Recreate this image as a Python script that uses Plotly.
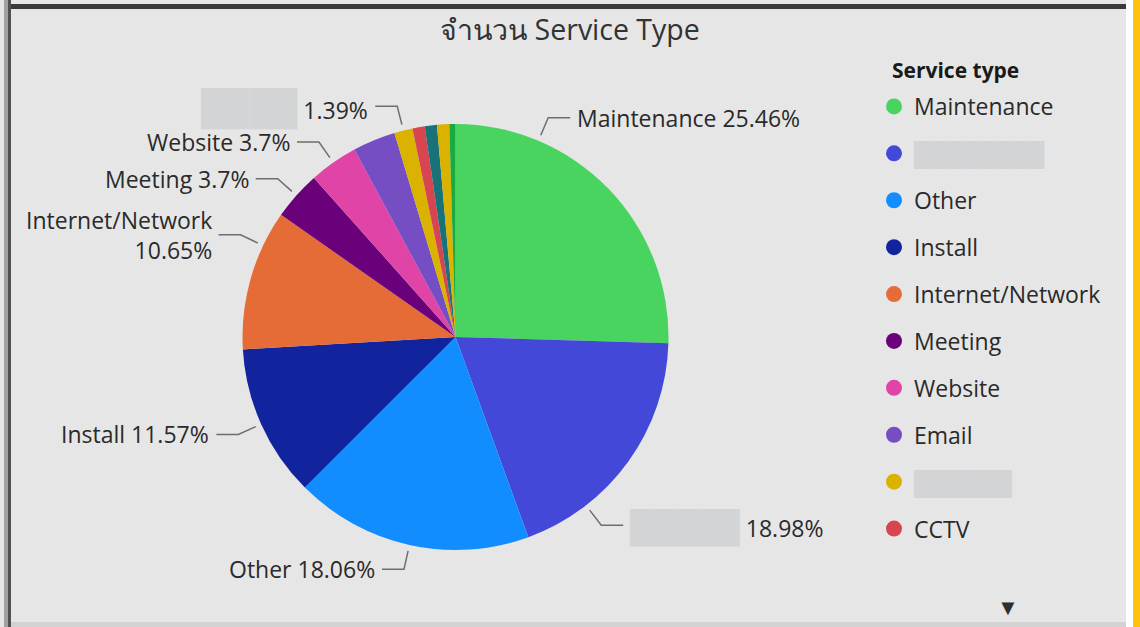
import math
import plotly.graph_objects as go

# ---------------- data ----------------
categories = ["Maintenance", "Hidden A", "Other", "Install", "Internet/Network",
              "Meeting", "Website", "Email", "Hidden B", "CCTV",
              "Hidden C", "Hidden D", "Hidden E"]
counts = [55, 41, 39, 25, 23, 8, 8, 7, 3, 2, 2, 2, 1]
slice_colors = ["#48D45F", "#4448D8", "#118DFF", "#12239E", "#E66C37",
                "#6B007B", "#E044A7", "#744EC2", "#D9B300", "#D64550",
                "#197278", "#D9B300", "#1AAB40"]
redacted = ["Hidden A", "Hidden B"]
labeled = ["Maintenance", "Hidden A", "Other", "Install", "Internet/Network",
           "Meeting", "Website", "Hidden B"]
wrapped = ["Internet/Network"]
legend_visible = 10
title_text = "จำนวน Service Type"
legend_title = "Service type"

# ---------------- style ----------------
W, H = 1140, 627
BG = "#E6E6E6"
TXT = "#2a2a2a"
FONT = "Open Sans"
BLOB = "#D3D4D6"
cx, cy, R = 455.5, 337, 213          # pie centre / radius in px
anchor_frac = {"Maintenance": 0.25, "Hidden A": 0.74, "Internet/Network": 0.75}
redact_blocks = {"Hidden A": 5, "Hidden B": 4}
redact_size = {"Hidden A": 31, "Hidden B": 34}
legend_blocks = {"Hidden A": 8, "Hidden B": 6}


def px(x):
    return x / W


def py(y):
    return 1 - y / H


def blob(n, size=None):
    fs = f"font-size:{size}px;" if size else ""
    return f'<span style="{fs}color:{BLOB}">' + "█" * n + "</span>"


fig = go.Figure()

fig.add_trace(go.Pie(
    labels=categories, values=counts, sort=False, direction="clockwise",
    rotation=0, marker=dict(colors=slice_colors, line=dict(width=0)),
    textinfo="none", showlegend=False,
    domain=dict(x=[px(cx - R), px(cx + R)], y=[py(cy + R), py(cy - R)]),
))

# legend entries (first visible ones, as in the scrolling legend)
for i in range(legend_visible):
    name = categories[i]
    shown = blob(legend_blocks[name]) if name in redacted else name
    fig.add_trace(go.Scatter(
        x=[None], y=[None], mode="markers", name=shown,
        marker=dict(symbol="circle", size=17, color=slice_colors[i]),
        legendgroup=str(i), showlegend=True, hoverinfo="skip"))

# data labels with leader lines
total = sum(counts)
start = 0.0
annotations = []
shapes = []
for name, v in zip(categories, counts):
    span = v / total * 360
    if name in labeled:
        f = anchor_frac.get(name, 0.5)
        th = math.radians(start + span * f)
        dx, dy = math.sin(th), -math.cos(th)
        x1, y1 = cx + 219 * dx, cy + 219 * dy
        x2, y2 = cx + 238 * dx, cy + 238 * dy
        side = 1 if dx > 0 else -1
        x3 = x2 + side * 22
        pct = f"{v / total * 100:.2f}".rstrip("0").rstrip(".")
        nm = (blob(redact_blocks[name], redact_size[name])
              if name in redacted else name)
        sep = "<br>" if name in wrapped else " "
        text = f"{nm}{sep}{pct}%"
        shapes.append(dict(
            type="path", xref="paper", yref="paper",
            path=f"M {px(x1)},{py(y1)} L {px(x2)},{py(y2)} L {px(x3)},{py(y2)}",
            line=dict(color="#6e6e6e", width=1.5)))
        annotations.append(dict(
            x=px(x3 + side * 5), y=py(y2), xref="paper", yref="paper",
            text=text, showarrow=False,
            xanchor="left" if side > 0 else "right", yanchor="middle",
            align="left" if side > 0 else "right",
            font=dict(family=FONT, size=23, color=TXT)))
    start += span

# legend title
annotations.append(dict(x=px(890), y=py(70), xref="paper", yref="paper",
                        text=f"<b>{legend_title}</b>", showarrow=False,
                        xanchor="left", yanchor="middle",
                        font=dict(family=FONT, size=21, color="#1a1a1a")))
# legend scroll arrow
annotations.append(dict(x=px(1008), y=py(606), xref="paper", yref="paper",
                        text="▼", showarrow=False, xanchor="center",
                        yanchor="middle",
                        font=dict(size=22, color="#2e2e2e")))

# frame decorations
shapes += [
    dict(type="rect", xref="paper", yref="paper", x0=px(4), x1=px(8), y0=0, y1=1,
         fillcolor="#a0a0a0", line=dict(width=0)),
    dict(type="rect", xref="paper", yref="paper", x0=px(8), x1=px(11), y0=0, y1=1,
         fillcolor="#505050", line=dict(width=0)),
    dict(type="rect", xref="paper", yref="paper", x0=px(11), x1=px(1126),
         y0=py(9), y1=py(4), fillcolor="#3a3a3a", line=dict(width=0)),
    dict(type="rect", xref="paper", yref="paper", x0=px(1126), x1=px(1133),
         y0=0, y1=1, fillcolor="#ffffff", line=dict(width=0)),
    dict(type="rect", xref="paper", yref="paper", x0=px(1133), x1=1,
         y0=0, y1=1, fillcolor="#FFC20E", line=dict(width=0)),
    dict(type="rect", xref="paper", yref="paper", x0=px(11), x1=px(1126),
         y0=0, y1=py(622), fillcolor="#d2d2d2", line=dict(width=0)),
]

fig.update_layout(
    width=W, height=H, margin=dict(l=0, r=0, t=0, b=0),
    paper_bgcolor=BG, plot_bgcolor=BG,
    font=dict(family=FONT, color=TXT),
    title=dict(text=title_text, x=0.5, xanchor="center", y=py(30),
               yanchor="middle", font=dict(family=FONT, size=28.5, color="#333333")),
    xaxis=dict(visible=False), yaxis=dict(visible=False),
    legend=dict(x=px(874), y=py(85), xanchor="left", yanchor="top",
                bgcolor="rgba(0,0,0,0)", itemwidth=30, tracegroupgap=14,
                font=dict(family=FONT, size=23, color=TXT)),
    annotations=annotations, shapes=shapes,
)

fig.write_html("out.html", config={"displayModeBar": False},
               post_script="document.body.style.margin='0';"
                           "document.body.style.overflow='hidden';")
